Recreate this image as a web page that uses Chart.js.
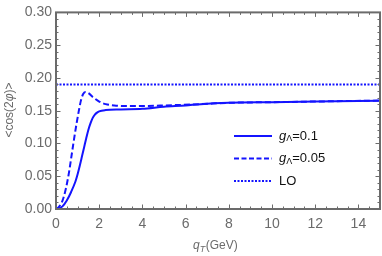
<!DOCTYPE html>
<html><head><meta charset="utf-8">
<script src="https://cdn.jsdelivr.net/npm/chart.js@4"></script>
<style>html,body{margin:0;padding:0;background:#fff}#c{display:block}</style>
</head><body>
<canvas id="c" width="382" height="256"></canvas>
<script>
const solidX = [0,0.1,0.3,0.5,0.7,0.9,1.0,1.1,1.2,1.3,1.4,1.5,1.6,1.7,1.8,1.9,2.0,2.3,3,4,5,6,6.7,8,10,12,15];
const solidY = [0,0.0005,0.004,0.013,0.026,0.042,0.053,0.066,0.080,0.094,0.108,0.121,0.131,0.139,0.144,0.147,0.149,0.151,0.152,0.153,0.156,0.158,0.160,0.162,0.163,0.164,0.165];
const dashX = [0,0.1,0.2,0.31,0.45,0.59,0.7,0.82,0.95,1.05,1.15,1.25,1.36,1.5,1.7,2.0,2.3,2.7,3.5,5,6.7,8,10,12,15];
const dashY = [0,0.002,0.006,0.0135,0.03,0.0535,0.077,0.1035,0.13,0.1485,0.165,0.175,0.1785,0.177,0.171,0.164,0.160,0.158,0.157,0.158,0.160,0.162,0.163,0.164,0.1655];
const loX = [0,15];
const loY = [0.19,0.19];
const xTicks = [0,2,4,6,8,10,12,14];
const yTicks = [0,0.05,0.10,0.15,0.20,0.25,0.30];
const legendLabels = ["=0.1","=0.05","LO"];

const toPts = (xs, ys) => xs.map((x,i)=>({x:x,y:ys[i]}));
const BLUE = '#1414ff';
const GRAY = '#6b6b6b';
const FONT = '"Liberation Sans", Arial, sans-serif';

const framePlugin = {
  id:'frame',
  afterDraw(chart){
    const ctx = chart.ctx, a = chart.chartArea;
    const xs = chart.scales.x, ys = chart.scales.y;
    ctx.save();
    ctx.strokeStyle = GRAY;
    ctx.lineWidth = 1;
    for (let v=0; v<=15.0001; v+=0.5){
      const px = Math.round(xs.getPixelForValue(v))+0.5;
      const major = Math.abs(v/2-Math.round(v/2))<1e-6;
      const L = major?4.5:2.5;
      ctx.beginPath();
      ctx.moveTo(px,a.bottom); ctx.lineTo(px,a.bottom-L);
      ctx.moveTo(px,a.top); ctx.lineTo(px,a.top+L);
      ctx.stroke();
    }
    for (let k=0; k<=30; k++){
      const v=k*0.01;
      const py = Math.round(ys.getPixelForValue(v))+0.5;
      const major = k%5===0;
      const L = major?4.5:2.5;
      ctx.beginPath();
      ctx.moveTo(a.left,py); ctx.lineTo(a.left+L,py);
      ctx.moveTo(a.right,py); ctx.lineTo(a.right-L,py);
      ctx.stroke();
    }
    ctx.lineWidth = 2;
    ctx.strokeRect(a.left, a.top, a.right-a.left, a.bottom-a.top);
    ctx.fillStyle = GRAY;
    ctx.textBaseline = 'middle';
    ctx.font = 'italic 12px ' + FONT;
    let x0 = 193, y0 = 246;
    ctx.textAlign='left';
    ctx.fillText('q', x0, y0);
    let w = ctx.measureText('q').width;
    ctx.font = 'italic 9px ' + FONT;
    ctx.fillText('T', x0+w, y0+3);
    let w2 = ctx.measureText('T').width;
    ctx.font = '12px ' + FONT;
    ctx.fillText('(GeV)', x0+w+w2+0.5, y0);
    ctx.save();
    ctx.translate(10, 110);
    ctx.rotate(-Math.PI/2);
    const parts = [['<cos(2',''],['φ','italic '],[')>','']];
    let total = 0;
    parts.forEach(p=>{ctx.font=p[1]+'12px '+FONT; total+=ctx.measureText(p[0]).width;});
    let cx = -total/2;
    parts.forEach(p=>{ctx.font=p[1]+'12px '+FONT; ctx.fillText(p[0],cx,0); cx+=ctx.measureText(p[0]).width;});
    ctx.restore();
    const rows = [136,158.5,181];
    const dashes = [[],[5,2.5],[2,1.5]];
    rows.forEach((ry,i)=>{
      ctx.strokeStyle = BLUE; ctx.lineWidth = 2;
      ctx.setLineDash(dashes[i]);
      ctx.beginPath(); ctx.moveTo(234,ry); ctx.lineTo(272,ry); ctx.stroke();
      ctx.setLineDash([]);
      ctx.fillStyle = '#111';
      let tx = 279;
      if (i<2){
        ctx.font = 'italic 13px ' + FONT;
        ctx.fillText('g', tx, ry); tx += ctx.measureText('g').width;
        ctx.font = '9px ' + FONT;
        ctx.fillText('Λ', tx, ry+3); tx += ctx.measureText('Λ').width;
      }
      ctx.font = '13px ' + FONT;
      ctx.fillText(legendLabels[i], tx, ry);
    });
    ctx.restore();
  }
};

new Chart(document.getElementById('c'), {
  type:'line',
  data:{datasets:[
    {data:toPts(solidX,solidY), borderColor:BLUE, borderWidth:2, pointRadius:0, cubicInterpolationMode:'monotone', fill:false},
    {data:toPts(dashX,dashY), borderColor:BLUE, borderWidth:2, borderDash:[6,3], pointRadius:0, cubicInterpolationMode:'monotone', fill:false},
    {data:toPts(loX,loY), borderColor:BLUE, borderWidth:2, borderDash:[2,1.5], pointRadius:0, fill:false}
  ]},
  options:{
    responsive:false, animation:false,
    layout:{padding:{top:9,right:2,left:0,bottom:0}},
    plugins:{legend:{display:false},tooltip:{enabled:false}},
    scales:{
      x:{type:'linear', min:0, max:15,
        afterBuildTicks(s){ s.ticks = xTicks.map(v=>({value:v})); },
        afterFit(s){ s.height = 47; },
        grid:{display:false, drawTicks:false}, border:{display:false},
        ticks:{color:GRAY, padding:7, font:{size:14, family:FONT}, maxRotation:0, callback:v=>String(v)}},
      y:{type:'linear', min:0, max:0.3,
        afterBuildTicks(s){ s.ticks = yTicks.map(v=>({value:v})); },
        afterFit(s){ s.width = 56; },
        grid:{display:false, drawTicks:false}, border:{display:false},
        ticks:{color:GRAY, padding:4, font:{size:14, family:FONT}, callback:v=>Number(v).toFixed(2)}}
    }
  },
  plugins:[framePlugin]
});
</script>
</body></html>
